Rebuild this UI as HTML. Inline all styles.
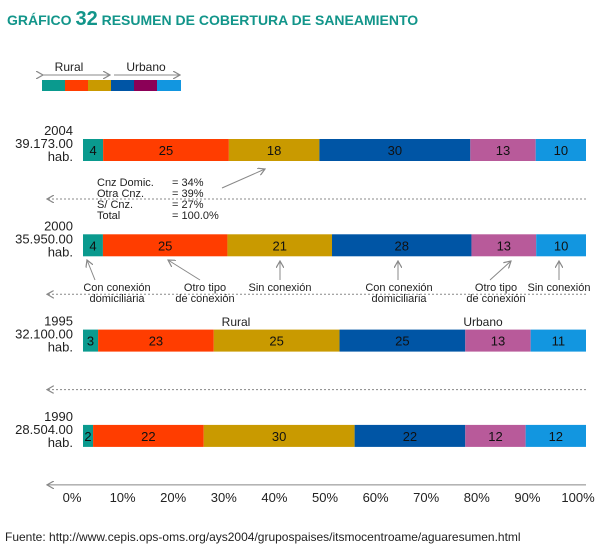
<!DOCTYPE html>
<html><head><meta charset="utf-8"><style>
body{margin:0;background:#fff;width:600px;height:555px;overflow:hidden;font-family:"Liberation Sans",sans-serif;}
</style></head><body>
<svg id="c" width="600" height="555" style="font-family:'Liberation Sans',sans-serif">
<defs><marker id="ah" markerWidth="8" markerHeight="8" refX="7" refY="4" orient="auto"><path d="M0,0 L7,4 L0,8" fill="none" stroke="#888" stroke-width="1.2"/></marker></defs>
<text x="7" y="25" fill="#12958a" font-weight="900" font-size="14">GRÁFICO <tspan font-size="20">32</tspan>  RESUMEN DE COBERTURA DE SANEAMIENTO</text>
<g>
<text x="69" y="71" font-size="12" text-anchor="middle" fill="#222">Rural</text>
<text x="146" y="71" font-size="12" text-anchor="middle" fill="#222">Urbano</text>
<line x1="43" y1="75" x2="110" y2="75" stroke="#888" marker-end="url(#ah)" marker-start="url(#ah)"/>
<line x1="114" y1="75" x2="180" y2="75" stroke="#888" marker-end="url(#ah)"/>
<rect x="42" y="80" width="23" height="11" fill="#0a9a8e"/><rect x="65" y="80" width="23" height="11" fill="#ff3d00"/><rect x="88" y="80" width="23" height="11" fill="#c99a00"/><rect x="111" y="80" width="23" height="11" fill="#0055a5"/><rect x="134" y="80" width="23" height="11" fill="#8b0057"/><rect x="157" y="80" width="24" height="11" fill="#1296e0"/>
</g>
<g id="bars"></g>
<g font-size="11" fill="#222">
<text x="97" y="186">Cnz Domic.</text><text x="172" y="186">= 34%</text>
<text x="97" y="197">Otra Cnz.</text><text x="172" y="197">= 39%</text>
<text x="97" y="208">S/ Cnz.</text><text x="172" y="208">= 27%</text>
<text x="97" y="219">Total</text><text x="172" y="219">= 100.0%</text>
</g>
<line x1="222" y1="188" x2="265" y2="169" stroke="#888" marker-end="url(#ah)"/>
<g font-size="11" fill="#222" text-anchor="middle">
<text x="117" y="291">Con conexión</text><text x="117" y="302">domiciliaria</text>
<text x="205" y="291">Otro tipo</text><text x="205" y="302">de conexión</text>
<text x="280" y="291">Sin conexión</text>
<text x="399" y="291">Con conexión</text><text x="399" y="302">domiciliaria</text>
<text x="496" y="291">Otro tipo</text><text x="496" y="302">de conexión</text>
<text x="559" y="291">Sin conexión</text>
<text x="236" y="326" font-size="12">Rural</text><text x="483" y="326" font-size="12">Urbano</text>
</g>
<g stroke="#888" fill="none">
<line x1="95" y1="280" x2="87" y2="260" marker-end="url(#ah)"/>
<line x1="200" y1="280" x2="168" y2="260" marker-end="url(#ah)"/>
<line x1="280" y1="280" x2="280" y2="261" marker-end="url(#ah)"/>
<line x1="398" y1="280" x2="398" y2="261" marker-end="url(#ah)"/>
<line x1="490" y1="280" x2="511" y2="261" marker-end="url(#ah)"/>
<line x1="559" y1="280" x2="559" y2="261" marker-end="url(#ah)"/>
</g>
<text x="5" y="541" font-size="12" fill="#222">Fuente: http://www.cepis.ops-oms.org/ays2004/grupospaises/itsmocentroame/aguaresumen.html</text>
</svg>
<script>
const years=["2004","2000","1995","1990"];
const pops=["39.173.00","35.950.00","32.100.00","28.504.00"];
const s1=[4,4,3,2];
const s2=[25,25,23,22];
const s3=[18,21,25,30];
const s4=[30,28,25,22];
const s5=[13,13,13,12];
const s6=[10,10,11,12];
const ticks=[0,10,20,30,40,50,60,70,80,90,100];
const colors=["#0a9a8e","#ff3d00","#c99a00","#0055a5","#b85a9a","#1296e0"];
const NS="http://www.w3.org/2000/svg";
const g=document.getElementById('bars');
const x=v=>83+v/100*503;
const tx=v=>72+v/100*506;
const rowY=i=>139+i*95.3;
function mk(t,a){const e=document.createElementNS(NS,t);for(const k in a)e.setAttribute(k,a[k]);g.appendChild(e);return e;}
const series=[s1,s2,s3,s4,s5,s6];
years.forEach((yr,i)=>{
  const y=rowY(i);let tot=0;series.forEach(s=>tot+=s[i]);
  let acc=0;
  series.forEach((s,j)=>{
    const v=s[i]/tot*100;
    const r=mk('rect',{x:x(acc),y:y,width:x(acc+v)-x(acc),height:22,fill:colors[j]});
    
    
    const t=mk('text',{x:(x(acc)+x(acc+v))/2,y:y+16,'text-anchor':'middle','font-size':13,fill:'#111'});
    t.textContent=s[i];
    
    
    acc+=v;
  });
  [yr,pops[i],"hab."].forEach((l,k)=>{
    const t=mk('text',{x:73,y:y-4+k*13,'text-anchor':'end','font-size':13,fill:'#222'});
    t.textContent=l;
    
    
  });
  const attrs={x1:586,y1:y+60,x2:47,y2:y+60,stroke:'#888','marker-end':'url(#ah)'};
  if(i<years.length-1)attrs['stroke-dasharray']='2,2';
  const dl=mk('line',attrs);
  
  
});
ticks.forEach(v=>{
  const t=mk('text',{x:tx(v),y:502,'text-anchor':'middle','font-size':13,fill:'#222'});
  t.textContent=v+'%';
  
  
});
</script>
</body></html>
